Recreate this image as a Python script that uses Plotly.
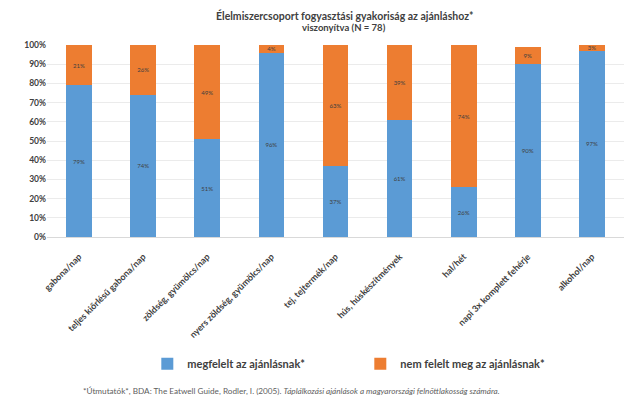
import plotly.graph_objects as go

categories = [
    "gabona/nap",
    "teljes kiőrlésű gabona/nap",
    "zöldség, gyümölcs/nap",
    "nyers zöldség, gyümölcs/nap",
    "tej, tejtermék/nap",
    "hús, húskészítmények",
    "hal/hét",
    "napi 3x komplett fehérje",
    "alkohol/nap",
]
met = [79, 74, 51, 96, 37, 61, 26, 90, 97]
not_met = [21, 26, 49, 4, 63, 39, 74, 9, 3]
y_ticks = list(range(0, 101, 10))

blue = "#5B9BD5"
orange = "#ED7D31"
label_font = dict(family="Lato, Open Sans, sans-serif", size=6, color="#404040")

fig = go.Figure()
fig.add_trace(go.Bar(
    x=categories, y=met, name="<b>megfelelt az ajánlásnak*</b>",
    marker=dict(color=blue, line=dict(width=0)),
    text=[f"{v}%" for v in met], texttemplate="%{text}",
    textposition="inside", insidetextanchor="middle",
    textangle=0, textfont=label_font,
))
fig.add_trace(go.Bar(
    x=categories, y=not_met, name="<b>nem felelt meg az ajánlásnak*</b>",
    marker=dict(color=orange, line=dict(width=0)),
    text=[f"{v}%" for v in not_met], texttemplate="%{text}",
    textposition="inside", insidetextanchor="middle",
    textangle=0, textfont=label_font,
))

fig.update_layout(
    barmode="stack",
    bargap=0.6,
    width=640, height=401,
    margin=dict(l=47, r=16, t=45, b=164),
    paper_bgcolor="white", plot_bgcolor="white",
    font=dict(family="Lato, Open Sans, sans-serif", color="#404040"),
    uniformtext=dict(minsize=6, mode="show"),
    showlegend=True,
    legend=dict(
        orientation="h", x=0.543, xanchor="center", y=-0.66, yanchor="middle",
        font=dict(size=11, color="#404040", family="Lato, Open Sans, sans-serif"),
        itemwidth=30, traceorder="normal", itemsizing="constant",
        entrywidth=168, entrywidthmode="pixels",
    ),
)

fig.add_annotation(
    text="<b>Élelmiszercsoport fogyasztási gyakoriság az ajánláshoz*</b>",
    xref="paper", yref="paper", x=0.515, y=1.155, xanchor="center", yanchor="middle",
    showarrow=False, font=dict(size=10.5, color="#404040"),
)
fig.add_annotation(
    text="<b>viszonyítva (N = 78)</b>",
    xref="paper", yref="paper", x=0.515, y=1.09, xanchor="center", yanchor="middle",
    showarrow=False, font=dict(size=9.5, color="#404040"),
)
fig.add_annotation(
    text="*Útmutatók*, BDA: The Eatwell Guide, Rodler, I. (2005). <i>Táplálkozási ajánlások a magyarországi felnőttlakosság számára.</i>",
    xref="paper", yref="paper", x=0.423, y=-0.80, xanchor="center", yanchor="middle",
    showarrow=False, font=dict(size=8.2, color="#606060"),
)

fig.update_xaxes(
    tickangle=-45, showgrid=False, showline=True, linecolor="#D9D9D9", linewidth=1,
    tickfont=dict(size=9, color="#404040", weight="bold"), ticks="",
    ticklabelstandoff=10,
)
fig.update_yaxes(
    range=[0, 100], tickvals=y_ticks, ticktext=[f"{v}%" for v in y_ticks],
    showgrid=True, gridcolor="#EBEBEB", gridwidth=1, zeroline=False,
    tickfont=dict(size=8.5, color="#404040", weight="bold"), ticks="",
)

fig.write_html("out.html")
